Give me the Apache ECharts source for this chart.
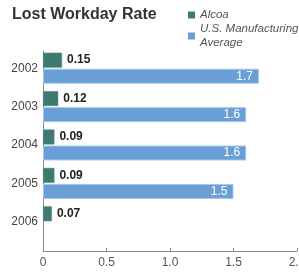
<!DOCTYPE html>
<html>
<head>
<meta charset="utf-8">
<script src="https://cdn.jsdelivr.net/npm/echarts@6/dist/echarts.min.js"></script>
<style>
  html, body { margin: 0; padding: 0; background: #fff; }
  #chart { width: 299px; height: 273px; }
</style>
</head>
<body>
<div id="chart"></div>
<script>
// chart data
const years = ["2002", "2003", "2004", "2005", "2006"];
const alcoa = [0.15, 0.12, 0.09, 0.09, 0.07];
const usAverage = [1.7, 1.6, 1.6, 1.5, null];
const xTicks = [0, 0.5, 1.0, 1.5, 2.0];

const chart = echarts.init(document.getElementById("chart"));

const font = "Liberation Sans, Arial, sans-serif";

const option = {
  animation: false,
  title: {
    text: "Lost Workday Rate",
    left: 7,
    top: 2,
    textStyle: { fontFamily: font, fontSize: 16, fontWeight: "bold", color: "#333" },
  },
  legend: {
    orient: "vertical",
    left: 183,
    top: 3,
    itemWidth: 7,
    itemHeight: 7,
    itemGap: 0,
    icon: "rect",
    itemStyle: { borderWidth: 0 },
    textStyle: { fontFamily: font, fontSize: 11.5, fontStyle: "italic", color: "#555", lineHeight: 14 },
    data: ["Alcoa", "U.S. Manufacturing\nAverage"],
  },
  grid: [
    // plot area holding the bars
    { left: 43, right: 2, top: 49, height: 192, outerBoundsMode: "none" },
    // frame whose axes reach down to the baseline
    { left: 43, right: 2, top: 51, height: 200, outerBoundsMode: "none" },
  ],
  xAxis: [
    { gridIndex: 0, type: "value", min: 0, max: 2, show: false },
    {
      gridIndex: 1,
      type: "value",
      min: 0,
      max: 2,
      interval: 0.5,
      axisLine: { show: true, lineStyle: { color: "#8a8a8a", width: 1 } },
      axisTick: { show: true, inside: true, length: 3, lineStyle: { color: "#8a8a8a" } },
      splitLine: { show: false },
      axisLabel: {
        fontFamily: font,
        fontSize: 12,
        color: "#555",
        margin: 6,
        formatter: (v) => (xTicks.includes(v) ? (v === 0 ? "0" : v.toFixed(1)) : ""),
      },
    },
  ],
  yAxis: [
    {
      gridIndex: 0,
      type: "category",
      inverse: true,
      data: years,
      axisLine: { show: false },
      axisTick: { show: false },
      axisLabel: { fontFamily: font, fontSize: 12, color: "#444", margin: 5 },
    },
    {
      gridIndex: 1,
      type: "value",
      min: 0,
      max: 1,
      axisLine: { show: true, lineStyle: { color: "#8a8a8a", width: 1 } },
      axisTick: { show: false },
      axisLabel: { show: false },
      splitLine: { show: false },
    },
  ],
  series: [
    {
      name: "Alcoa",
      type: "bar",
      xAxisIndex: 0,
      yAxisIndex: 0,
      data: alcoa,
      barWidth: 15,
      barGap: "7%",
      itemStyle: { color: "#3d7a70", borderColor: "#5f958c", borderWidth: 0.5 },
      label: {
        show: true,
        position: "right",
        distance: 5,
        fontFamily: font,
        fontSize: 12,
        fontWeight: "bold",
        color: "#222",
        formatter: (p) => p.value.toFixed(2),
      },
    },
    {
      name: "U.S. Manufacturing\nAverage",
      type: "bar",
      xAxisIndex: 0,
      yAxisIndex: 0,
      data: usAverage,
      barWidth: 15,
      itemStyle: { color: "#6a9fd6", borderColor: "#a7c7ea", borderWidth: 1 },
      label: {
        show: true,
        position: "insideRight",
        distance: 6,
        fontFamily: font,
        fontSize: 12,
        color: "#fff",
        formatter: (p) => p.value.toFixed(1),
      },
    },
  ],
};

chart.setOption(option);
</script>
</body>
</html>
